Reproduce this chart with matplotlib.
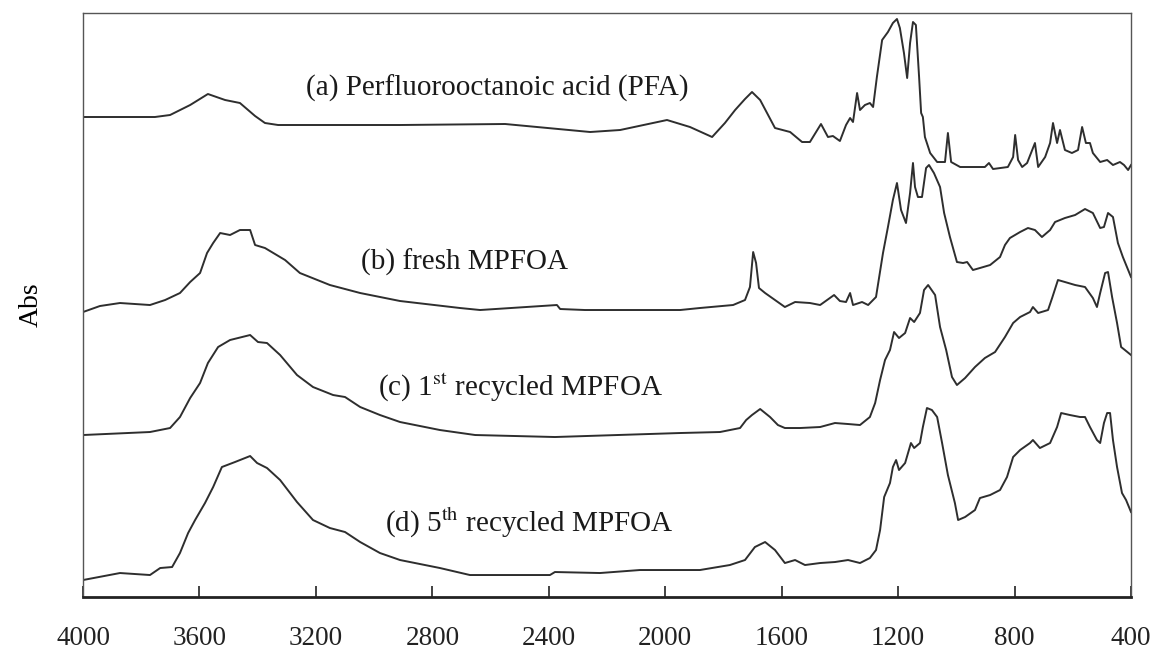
import matplotlib
matplotlib.use("Agg")
import matplotlib.pyplot as plt

plt.rcParams.update(
    {
        "font.family": ["Liberation Serif", "DejaVu Serif"],
        "mathtext.fontset": "stix",
        "font.size": 20,
    }
)

# FTIR spectra, absorbance in arbitrary offset units
wn_a = [4000, 3753, 3701, 3632, 3571, 3512, 3461, 3409, 3375, 3330, 2911, 2550, 2258, 2155,
        1994, 1915, 1839, 1795, 1760, 1726, 1702, 1674, 1623, 1571, 1530, 1503, 1465, 1441,
        1424, 1400, 1379, 1365, 1355, 1341, 1331, 1314, 1297, 1286, 1273, 1255, 1235, 1218,
        1204, 1194, 1180, 1169, 1159, 1149, 1139, 1128, 1121, 1115, 1108, 1090, 1066, 1039,
        1029, 1018, 987, 902, 888, 874, 823, 805, 798, 788, 774, 757, 730, 719, 695, 678,
        668, 654, 644, 627, 603, 582, 568, 555, 541, 531, 506, 482, 462, 438, 424, 410, 400]
abs_a = [4.83, 4.83, 4.85, 4.95, 5.06, 5.00, 4.97, 4.84, 4.77, 4.75, 4.75, 4.76, 4.68, 4.70,
         4.80, 4.73, 4.63, 4.77, 4.90, 5.01, 5.08, 5.00, 4.72, 4.68, 4.58, 4.58, 4.76, 4.63,
         4.64, 4.59, 4.75, 4.82, 4.78, 5.07, 4.90, 4.95, 4.97, 4.93, 5.23, 5.60, 5.68, 5.77,
         5.81, 5.72, 5.47, 5.22, 5.57, 5.78, 5.75, 5.23, 4.87, 4.83, 4.63, 4.47, 4.38, 4.38,
         4.67, 4.38, 4.33, 4.33, 4.37, 4.31, 4.33, 4.43, 4.65, 4.40, 4.33, 4.37, 4.57, 4.33,
         4.43, 4.57, 4.77, 4.57, 4.70, 4.50, 4.47, 4.50, 4.73, 4.57, 4.57, 4.47, 4.38, 4.40,
         4.35, 4.38, 4.35, 4.30, 4.35]

wn_b = [4000, 3942, 3873, 3770, 3718, 3667, 3632, 3598, 3574, 3553, 3529, 3495, 3461, 3426,
        3409, 3375, 3306, 3255, 3152, 3048, 2911, 2705, 2636, 2372, 2361, 2276, 1949, 1881,
        1767, 1726, 1709, 1698, 1688, 1678, 1657, 1623, 1589, 1554, 1503, 1468, 1420, 1400,
        1379, 1365, 1355, 1324, 1303, 1276, 1252, 1235, 1218, 1204, 1190, 1173, 1159, 1149,
        1142, 1132, 1118, 1104, 1094, 1077, 1056, 1042, 1022, 998, 977, 963, 943, 919, 884,
        850, 833, 816, 781, 754, 730, 706, 678, 661, 627, 592, 558, 531, 506, 493, 479, 462,
        445, 428, 414, 400]
abs_b = [2.88, 2.94, 2.97, 2.95, 3.00, 3.07, 3.18, 3.27, 3.47, 3.57, 3.67, 3.65, 3.70, 3.70,
         3.55, 3.52, 3.40, 3.27, 3.15, 3.07, 2.99, 2.92, 2.90, 2.95, 2.91, 2.90, 2.90, 2.92,
         2.95, 3.00, 3.13, 3.48, 3.37, 3.12, 3.07, 3.00, 2.93, 2.98, 2.97, 2.95, 3.05, 2.99,
         2.98, 3.07, 2.95, 2.98, 2.95, 3.03, 3.47, 3.73, 4.00, 4.17, 3.90, 3.77, 4.07, 4.37,
         4.13, 4.03, 4.03, 4.32, 4.35, 4.27, 4.13, 3.87, 3.63, 3.38, 3.37, 3.38, 3.30, 3.32,
         3.35, 3.43, 3.55, 3.62, 3.68, 3.72, 3.70, 3.63, 3.70, 3.78, 3.82, 3.85, 3.91, 3.87,
         3.72, 3.73, 3.87, 3.83, 3.57, 3.43, 3.33, 3.23]

wn_c = [4000, 3770, 3701, 3667, 3632, 3598, 3571, 3536, 3495, 3426, 3399, 3368, 3323, 3265,
        3210, 3141, 3100, 3048, 2980, 2911, 2774, 2653, 2379, 1949, 1812, 1743, 1722, 1702,
        1674, 1640, 1613, 1589, 1537, 1468, 1417, 1372, 1331, 1297, 1279, 1262, 1245, 1228,
        1214, 1197, 1176, 1159, 1145, 1125, 1111, 1097, 1073, 1056, 1035, 1015, 998, 970,
        936, 902, 867, 833, 805, 781, 747, 737, 719, 685, 671, 651, 627, 592, 558, 531, 517,
        506, 489, 479, 465, 448, 434, 421, 400]
abs_c = [1.65, 1.68, 1.72, 1.83, 2.02, 2.17, 2.37, 2.53, 2.60, 2.65, 2.58, 2.57, 2.45, 2.25,
         2.13, 2.05, 2.03, 1.93, 1.85, 1.78, 1.70, 1.65, 1.63, 1.67, 1.68, 1.72, 1.80, 1.85,
         1.91, 1.83, 1.75, 1.72, 1.72, 1.73, 1.77, 1.76, 1.75, 1.83, 1.97, 2.20, 2.40, 2.50,
         2.68, 2.62, 2.67, 2.82, 2.78, 2.87, 3.10, 3.15, 3.05, 2.73, 2.50, 2.23, 2.15, 2.22,
         2.33, 2.42, 2.48, 2.63, 2.77, 2.83, 2.88, 2.93, 2.87, 2.90, 3.02, 3.20, 3.18, 3.15,
         3.13, 3.02, 2.93, 3.07, 3.27, 3.28, 3.03, 2.77, 2.53, 2.50, 2.45]

wn_d = [4000, 3873, 3770, 3735, 3694, 3667, 3639, 3615, 3581, 3553, 3523, 3478, 3426, 3402,
        3368, 3323, 3265, 3210, 3152, 3100, 3048, 2980, 2911, 2774, 2671, 2396, 2379, 2224,
        2087, 1881, 1778, 1726, 1692, 1657, 1623, 1589, 1554, 1520, 1468, 1417, 1372, 1331,
        1297, 1276, 1262, 1248, 1228, 1218, 1207, 1197, 1176, 1156, 1145, 1125, 1115, 1101,
        1084, 1066, 1049, 1029, 1005, 994, 970, 936, 919, 884, 850, 826, 805, 781, 747, 737,
        713, 678, 654, 640, 610, 575, 558, 541, 517, 506, 493, 482, 472, 462, 448, 431, 417,
        400]
abs_d = [0.20, 0.27, 0.25, 0.32, 0.33, 0.47, 0.67, 0.80, 0.97, 1.13, 1.33, 1.38, 1.44, 1.37,
         1.32, 1.20, 0.98, 0.80, 0.72, 0.68, 0.58, 0.47, 0.40, 0.32, 0.25, 0.25, 0.28, 0.27,
         0.30, 0.30, 0.35, 0.40, 0.53, 0.58, 0.50, 0.37, 0.40, 0.35, 0.37, 0.38, 0.40, 0.37,
         0.42, 0.50, 0.70, 1.03, 1.17, 1.33, 1.40, 1.30, 1.37, 1.57, 1.52, 1.57, 1.73, 1.92,
         1.90, 1.83, 1.57, 1.25, 0.97, 0.80, 0.83, 0.90, 1.02, 1.05, 1.10, 1.23, 1.43, 1.50,
         1.57, 1.60, 1.52, 1.57, 1.73, 1.87, 1.85, 1.83, 1.83, 1.73, 1.60, 1.57, 1.77, 1.87,
         1.87, 1.60, 1.33, 1.07, 1.00, 0.88]

labels = [
    "(a) Perfluorooctanoic acid (PFA)",
    "(b) fresh MPFOA",
    r"(c) 1$^{\rm st}$ recycled MPFOA",
    r"(d) 5$^{\rm th}$ recycled MPFOA",
]
label_x = [2578, 2688, 2499, 2468]
label_y = [5.12, 3.38, 2.13, 0.77]

xticks = [4000, 3600, 3200, 2800, 2400, 2000, 1600, 1200, 800, 400]

fig = plt.figure(figsize=(11.58, 6.5), dpi=100)
ax = fig.add_axes([0.0717, 0.0815, 0.905, 0.8985])

for wn, ab in [(wn_a, abs_a), (wn_b, abs_b), (wn_c, abs_c), (wn_d, abs_d)]:
    ax.plot(wn, ab, color="#2e2e2e", linewidth=1.4)

for text, x, y in zip(labels, label_x, label_y):
    ax.text(x, y, text, ha="center", va="center", color="#1a1a1a", fontsize=21)

ax.set_xlim(4000, 400)
ax.set_ylim(0.03, 5.87)
ax.set_xticks(xticks)
ax.set_yticks([])
ax.tick_params(axis="x", direction="in", length=8, width=1.2, pad=21,
               labelsize=19.5, colors="#222222")
ax.set_ylabel("Abs", labelpad=28)

for side in ["top", "right", "left"]:
    ax.spines[side].set_color("#555555")
    ax.spines[side].set_linewidth(1.0)
ax.spines["bottom"].set_color("#222222")
ax.spines["bottom"].set_linewidth(2.0)

fig.savefig("out.png", dpi=100)
